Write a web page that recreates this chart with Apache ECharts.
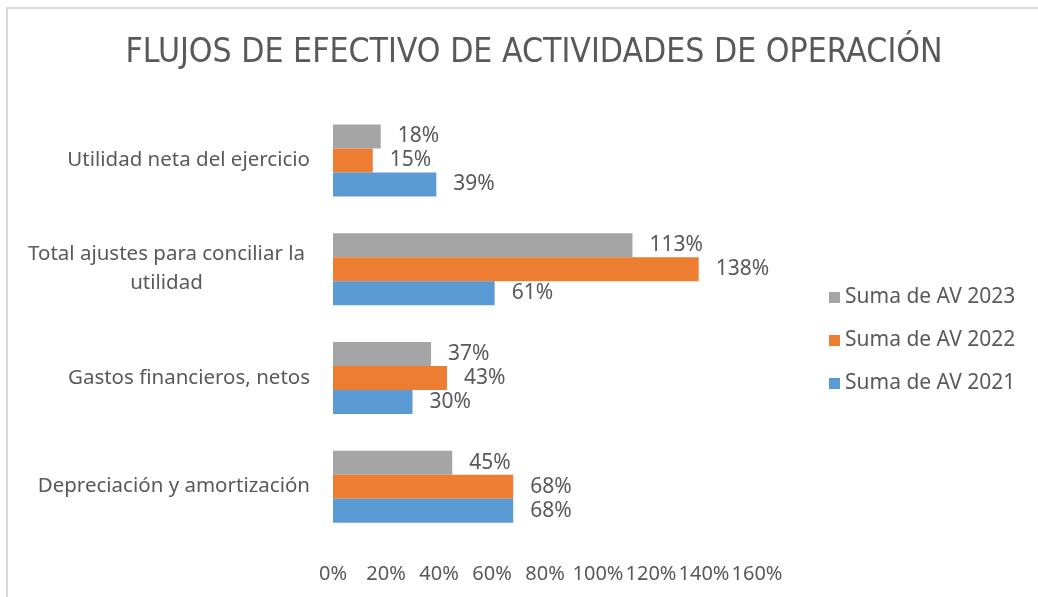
<!DOCTYPE html>
<html>
<head>
<meta charset="UTF-8">
<title>Flujos de efectivo</title>
<script src="https://cdn.jsdelivr.net/npm/echarts@6/dist/echarts.min.js"></script>
<style>
  html, body { margin: 0; padding: 0; background: #fff; }
  #frame { position: absolute; left: 6px; top: 7px; width: 1040px; height: 600px;
           border-top: 2px solid #d9d9d9; border-left: 2px solid #d9d9d9; }
  #main { width: 1038px; height: 597px; position: absolute; left: 0; top: 0; }
</style>
</head>
<body>
<div id="frame"></div>
<div id="main"></div>
<script>
var categories = ['Depreciación y amortización', 'Gastos financieros, netos',
                  'Total ajustes para conciliar la utilidad', 'Utilidad neta del ejercicio'];
var av2021 = [68, 30, 61, 39];
var av2022 = [68, 43, 138, 15];
var av2023 = [45, 37, 113, 18];
var xTicks = [0, 20, 40, 60, 80, 100, 120, 140, 160];

var textColor = '#595959';
var font = 'Noto Sans';

function mkSeries(name, data, color) {
  return {
    name: name,
    type: 'bar',
    data: data,
    barWidth: 24,
    barGap: '0%',
    itemStyle: { color: color },
    label: {
      show: true, position: 'right', distance: 17,
      color: textColor, fontFamily: font, fontSize: 21,
      formatter: '{c}%'
    }
  };
}

var chart = echarts.init(document.getElementById('main'), null, { renderer: 'canvas' });
chart.setOption({
  animation: false,
  title: {
    text: 'FLUJOS DE EFECTIVO DE ACTIVIDADES DE OPERACIÓN',
    left: 529, top: 31, textAlign: 'center',
    textStyle: { color: textColor, fontFamily: 'DejaVu Sans Condensed, Noto Sans', fontWeight: 'lighter', fontSize: 33.5 }
  },
  legend: {
    orient: 'vertical', left: 824, top: 282,
    data: ['Suma de AV 2023', 'Suma de AV 2022', 'Suma de AV 2021'],
    icon: 'rect', itemWidth: 11, itemHeight: 11, itemGap: 22,
    textStyle: { color: textColor, fontFamily: font, fontSize: 21 }
  },
  grid: { left: 333, right: 281, top: 106, bottom: 56, containLabel: false },
  xAxis: {
    type: 'value', min: xTicks[0], max: xTicks[xTicks.length - 1], interval: 20,
    axisLine: { show: false }, axisTick: { show: false }, splitLine: { show: false },
    axisLabel: { color: textColor, fontFamily: font, fontSize: 20, margin: 23, formatter: '{value}%' }
  },
  yAxis: {
    type: 'category', data: categories,
    axisLine: { show: false }, axisTick: { show: false },
    axisLabel: {
      color: textColor, fontFamily: font, fontSize: 20.5, margin: 23, lineHeight: 29,
      formatter: function (v) {
        if (v.indexOf('Total ajustes') === 0) {
          return '{c|Total ajustes para conciliar la}\n{c|utilidad}';
        }
        return v;
      },
      rich: { c: { width: 287, align: 'center', color: textColor, fontFamily: font, fontSize: 20.5, lineHeight: 29 } }
    }
  },
  series: [
    mkSeries('Suma de AV 2023', av2023, '#A5A5A5'),
    mkSeries('Suma de AV 2022', av2022, '#ED7D31'),
    mkSeries('Suma de AV 2021', av2021, '#5B9BD5')
  ]
});
</script>
</body>
</html>
